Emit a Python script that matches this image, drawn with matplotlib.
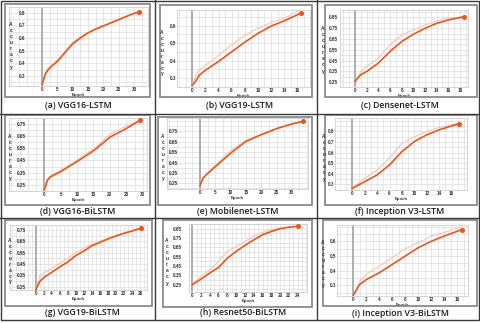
import matplotlib
matplotlib.use("Agg")
import matplotlib.pyplot as plt
from matplotlib.ticker import MultipleLocator
from matplotlib.lines import Line2D
from matplotlib.patches import Rectangle

# ---------------- data ----------------
captions = ["(a) VGG16-LSTM", "(b) VGG19-LSTM", "(c) Densenet-LSTM",
            "(d) VGG16-BiLSTM", "(e) Mobilenet-LSTM", "(f) Inception V3-LSTM",
            "(g) VGG19-BiLSTM", "(h) Resnet50-BiLSTM", "(i) Inception V3-BiLSTM"]

a_epochs = [0, 1, 2, 3.5, 5, 7.5, 10, 12.5, 15, 17.5, 20, 22.5, 25, 27.5, 30, 31.5]
a_main = [0.23, 0.31, 0.35, 0.385, 0.415, 0.485, 0.555, 0.60, 0.64, 0.67, 0.695, 0.72, 0.745, 0.77, 0.795, 0.805]
a_light = [0.23, 0.32, 0.36, 0.395, 0.425, 0.495, 0.565, 0.61, 0.645, 0.675, 0.70, 0.725, 0.75, 0.772, 0.797, 0.807]

b_epochs = [0, 0.5, 1, 2, 4, 6, 8, 10, 12, 14, 16.5]
b_main = [0.26, 0.28, 0.315, 0.345, 0.395, 0.45, 0.505, 0.555, 0.597, 0.627, 0.67]
b_light = [0.26, 0.31, 0.345, 0.372, 0.43, 0.49, 0.545, 0.584, 0.617, 0.642, 0.69]

c_epochs = [0, 1, 2, 4, 6, 8, 10, 12, 14, 16, 18.7]
c_main = [0.259, 0.32, 0.35, 0.427, 0.534, 0.626, 0.693, 0.748, 0.794, 0.825, 0.855]
c_light = [0.259, 0.35, 0.396, 0.473, 0.595, 0.687, 0.733, 0.779, 0.816, 0.84, 0.856]

d_epochs = [0, 0.5, 1, 2, 5, 10, 15, 16, 20, 25, 29.2]
d_main = [0.209, 0.25, 0.291, 0.318, 0.359, 0.441, 0.529, 0.55, 0.64, 0.71, 0.777]
d_light = [0.209, 0.27, 0.30, 0.33, 0.37, 0.455, 0.545, 0.565, 0.665, 0.73, 0.78]

e_epochs = [0, 1, 2, 5, 10, 15, 20, 25, 30, 33.6]
e_main = [0.227, 0.298, 0.33, 0.41, 0.54, 0.653, 0.718, 0.776, 0.821, 0.847]
e_light = [0.227, 0.30, 0.335, 0.425, 0.565, 0.665, 0.722, 0.778, 0.822, 0.848]

f_epochs = [0, 1, 2, 4, 6, 8, 10, 12, 14, 17.2]
f_main = [0.262, 0.294, 0.325, 0.389, 0.484, 0.61, 0.705, 0.768, 0.816, 0.873]
f_light = [0.262, 0.31, 0.357, 0.436, 0.55, 0.69, 0.75, 0.80, 0.838, 0.88]

g_epochs = [0, 1, 2, 4, 6, 8, 10, 12, 14, 16, 18, 20, 22, 24, 26.2]
g_main = [0.22, 0.294, 0.33, 0.376, 0.424, 0.468, 0.524, 0.565, 0.61, 0.64, 0.67, 0.697, 0.72, 0.74, 0.765]
g_light = [0.22, 0.34, 0.37, 0.41, 0.455, 0.50, 0.55, 0.59, 0.625, 0.652, 0.678, 0.702, 0.724, 0.745, 0.767]

h_epochs = [0, 2, 4, 6, 8, 10, 12, 14, 16, 18, 20, 22, 24]
h_main = [0.25, 0.31, 0.375, 0.435, 0.535, 0.607, 0.67, 0.73, 0.785, 0.82, 0.85, 0.865, 0.875]
h_light = [0.25, 0.34, 0.41, 0.50, 0.607, 0.66, 0.71, 0.77, 0.81, 0.84, 0.855, 0.868, 0.877]

i_epochs = [0, 1, 2, 4, 6, 8, 10, 12, 14, 16.7]
i_main = [0.234, 0.307, 0.34, 0.386, 0.443, 0.50, 0.557, 0.60, 0.636, 0.68]
i_light = [0.234, 0.33, 0.375, 0.43, 0.49, 0.55, 0.59, 0.636, 0.66, 0.70]

xticks_list = [list(range(0, 31, 5)), list(range(0, 17, 2)), list(range(0, 19, 2)),
               list(range(0, 31, 5)), list(range(0, 31, 5)), list(range(0, 17, 2)),
               list(range(0, 27, 2)), list(range(0, 25, 2)), list(range(0, 17, 2))]
yticks_list = [[0.3, 0.4, 0.5, 0.6, 0.7, 0.8], [0.3, 0.4, 0.5, 0.6],
               [0.25, 0.35, 0.45, 0.55, 0.65, 0.75, 0.85],
               [0.25, 0.35, 0.45, 0.55, 0.65, 0.75], [0.25, 0.35, 0.45, 0.55, 0.65, 0.75],
               [0.3, 0.4, 0.5, 0.6, 0.7, 0.8], [0.25, 0.35, 0.45, 0.55, 0.65, 0.75],
               [0.25, 0.35, 0.45, 0.55, 0.65, 0.75, 0.85], [0.3, 0.4, 0.5, 0.6]]

series = [(a_epochs, a_main, a_light), (b_epochs, b_main, b_light), (c_epochs, c_main, c_light),
          (d_epochs, d_main, d_light), (e_epochs, e_main, e_light), (f_epochs, f_main, f_light),
          (g_epochs, g_main, g_light), (h_epochs, h_main, h_light), (i_epochs, i_main, i_light)]

# ---------------- layout (pixels, top-left origin) ----------------
W, H = 480, 323
grid_px = [(9, 7, 148, 86), (177, 10, 310, 87), (340, 10, 468, 87),
           (9, 118, 147, 191), (167, 118, 308, 189), (335, 118, 467, 190),
           (10, 225, 147, 290), (189, 224, 307, 292), (337, 225, 468, 296)]
xlims = [(-10.75, 34.53), (-2.33, 17.94), (-2.57, 19.38), (-10.76, 31.31), (-10.78, 35.29),
         (-2.79, 18.47), (-6.41, 27.76), (-0.75, 26.13), (-2.51, 17.65)]
ylims = [(0.221, 0.845), (0.249, 0.689), (0.207, 0.917), (0.201, 0.796), (0.195, 0.879),
         (0.246, 0.927), (0.22, 0.794), (0.171, 0.90), (0.228, 0.711)]
ypad_px = [-16, 1, 2, -17, -11, 1, -16, 7, 1]
box_px = [(5, 4, 150, 97), (160, 5, 312, 97), (325, 5, 477, 97),
          (5, 115, 150, 205), (158, 117, 312, 205), (325, 115, 477, 205),
          (5, 220, 152, 306), (163, 220, 312, 307), (323, 220, 477, 306)]
cap_px = [(78, 106), (240, 106), (400, 106), (78, 212), (238, 212), (400, 212),
          (82, 312.5), (243, 312.5), (400, 313.5)]
acc_px = [(11, 46), (162, 53), (323, 50), (10, 157), (163, 157), (324, 158),
          (10, 261), (167, 262), (323, 264)]

MAIN = "#E8561E"
LIGHT = "#F7C6B0"
GRIDC = "#DCDCDC"

fig = plt.figure(figsize=(W / 100, H / 100), dpi=100)
fig.patch.set_facecolor("white")


def fx(x):
    return x / W


def fy(y):
    return 1 - y / H


# panel boxes
for (x0, y0, x1, y1) in box_px:
    fig.add_artist(Rectangle((fx(x0), fy(y1)), fx(x1) - fx(x0), fy(y0) - fy(y1),
                             transform=fig.transFigure, fill=False,
                             edgecolor="#8A8A8A", linewidth=1.3))

# cell separators and outer frame
sep = "#3A3A3A"
for xv in (155, 317):
    fig.add_artist(Line2D([fx(xv), fx(xv)], [fy(0), fy(319)], transform=fig.transFigure,
                          color=sep, linewidth=1.0))
for yv in (114, 218):
    fig.add_artist(Line2D([fx(0), fx(480)], [fy(yv), fy(yv)], transform=fig.transFigure,
                          color=sep, linewidth=1.0))
fig.add_artist(Rectangle((fx(0.5), fy(319.5)), fx(479) - fx(0.5), fy(0.5) - fy(319.5),
                         transform=fig.transFigure, fill=False, edgecolor=sep, linewidth=1.0))

for k in range(9):
    x0, y0, x1, y1 = grid_px[k]
    ax = fig.add_axes([fx(x0), fy(y1), fx(x1) - fx(x0), fy(y0) - fy(y1)])
    ep, m, l = series[k]
    ax.set_xlim(*xlims[k])
    ax.set_ylim(*ylims[k])
    xt = xticks_list[k]
    yt = yticks_list[k]
    ax.set_xticks(xt)
    ax.set_yticks(yt)
    ax.set_xticklabels([str(v) for v in xt])
    ax.set_yticklabels([("%g" % v) for v in yt])
    xstep = xt[1] - xt[0]
    ystep = round(yt[1] - yt[0], 3)
    ax.xaxis.set_minor_locator(MultipleLocator(xstep / 2))
    ax.yaxis.set_minor_locator(MultipleLocator(ystep / 2))
    ax.grid(True, which="both", color=GRIDC, linewidth=0.5)
    ax.set_axisbelow(True)
    for s in ax.spines.values():
        s.set_color("#CFCFCF")
        s.set_linewidth(0.6)
    ax.tick_params(which="both", length=0)
    ax.tick_params(axis="x", pad=0.8, labelsize=3.3, labelcolor="#333333")
    ax.tick_params(axis="y", pad=ypad_px[k] * 0.72, labelsize=3.3, labelcolor="#333333")
    for t in ax.get_xticklabels() + ax.get_yticklabels():
        t.set_fontweight("bold")
        t.set_family("Liberation Sans")
    ax.axvline(0, color="#A8A8A8", linewidth=1.3, zorder=1.5)
    ax.plot(ep, l, color=LIGHT, linewidth=0.8, zorder=2, clip_on=False)
    ax.plot(ep, m, color=MAIN, linewidth=1.2, zorder=3, clip_on=False)
    ax.plot(ep[-1:], m[-1:], "o", color=MAIN, markersize=2.6, zorder=4, clip_on=False)
    ax.set_xlabel("Epoch", fontsize=3.2, fontweight="bold", family="Liberation Sans",
                  color="#333333", labelpad=0.4)

    cx, cy = cap_px[k]
    fig.text(fx(cx), fy(cy), captions[k], ha="center", va="center", fontsize=6.3,
             fontweight="semibold", family="Open Sans", color="#1A1A1A")
    axx, axy = acc_px[k]
    fig.text(fx(axx), fy(axy), "\n".join("Accuracy"), ha="center", va="center",
             fontsize=3.5, fontweight="bold", family="Liberation Sans", color="#333333",
             linespacing=1.25)

fig.savefig("out.png", dpi=100, facecolor="white")
